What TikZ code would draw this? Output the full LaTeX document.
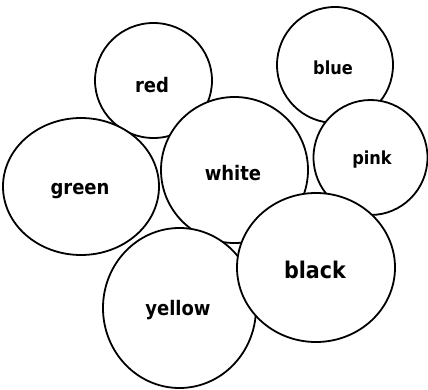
\documentclass[tikz,border=0pt]{standalone}
\usepackage{fontspec}
\setmainfont{DejaVu Sans Condensed}
\usetikzlibrary{shapes.geometric}
\begin{document}
\begin{tikzpicture}[x=1pt,y=-1pt,
  ball/.style={ellipse,draw=black,fill=white,line width=1.8pt,inner sep=0pt},
  word/.style={font=\fontsize{#1}{#1}\selectfont\bfseries,inner sep=0pt,text=black}]
\useasboundingbox (0,0) rectangle (428,390);
\node[ball,minimum width=117pt,minimum height=115pt] (red) at (153.5,80.5) {};
\node[ball,minimum width=116pt,minimum height=116pt] (blue) at (335,65) {};
\node[ball,minimum width=156pt,minimum height=137pt] (green) at (81,186.5) {};
\node[ball,minimum width=147pt,minimum height=146pt] (white) at (234.5,170) {};
\node[ball,minimum width=114pt,minimum height=115pt] (pink) at (370.5,157.5) {};
\node[ball,minimum width=153pt,minimum height=160pt] (yellow) at (179.5,308) {};
\node[ball,minimum width=158pt,minimum height=149pt] (black) at (316,267.5) {};
\node[word=20] (tred) at (152,85) {red};
\node[word=18] (tblue) at (333,68) {blue};
\node[word=20] (tgreen) at (80,191) {green};
\node[word=20] (twhite) at (233,173) {white};
\node[word=18] (tpink) at (372,160) {pink};
\node[word=20] (tyellow) at (178,310) {yellow};
\node[word=23] (tblack) at (315,270) {black};
\end{tikzpicture}
\end{document}
